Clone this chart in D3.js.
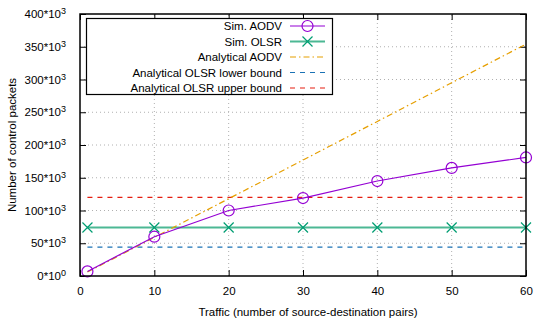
<!DOCTYPE html>
<html>
<head>
<meta charset="utf-8">
<script src="https://cdn.jsdelivr.net/npm/d3@7"></script>
<style>
  body { margin: 0; background: #fff; }
  svg { display: block; font-family: "Liberation Sans", Arial, sans-serif; }
</style>
</head>
<body>
<svg id="chart" width="536" height="320"></svg>
<script>
// Traffic levels (source-destination pairs)
const pairs = [1, 10, 20, 30, 40, 50, 60];
// Control packet counts, in thousands
const simAODV = [7, 60, 100, 119, 145, 165, 181];
const simOLSR = [74, 74, 74, 74, 74, 74, 74];
const anaAODV = [6, 59, 118, 177, 236, 295, 354];
const olsrLower = [44, 44];
const olsrUpper = [120, 120];
const boundX = [1, 60];

const xTicks = [0, 10, 20, 30, 40, 50, 60];
const yTicks = [0, 50, 100, 150, 200, 250, 300, 350, 400];

const svg = d3.select("#chart");
const L = 80, R = 526, T = 14, B = 276;
const FS = "11.5px";
const x = d3.scaleLinear().domain([0, 60]).range([L, R]);
const y = d3.scaleLinear().domain([0, 400]).range([B, T]);

// grid
const grid = svg.append("g").attr("stroke", "#b0b0b0").attr("stroke-width", 1)
  .attr("stroke-dasharray", "1,3");
xTicks.slice(1, -1).forEach(t => grid.append("line")
  .attr("x1", x(t)).attr("x2", x(t)).attr("y1", B).attr("y2", T));
yTicks.slice(1, -1).forEach(t => grid.append("line")
  .attr("x1", L).attr("x2", R).attr("y1", y(t)).attr("y2", y(t)));

// axes with inward ticks, mirrored on top/right
const fmtY = (g) => {
  g.selectAll("text").each(function(d) {
    const t = d3.select(this);
    t.text(null);
    t.append("tspan").text(d === 0 ? "0*10" : d + "*10");
    t.append("tspan").attr("dy", "-0.45em").attr("font-size", "9px").text(d === 0 ? "0" : "3");
  });
};
const styleAxis = g => {
  g.select(".domain").remove();
  g.selectAll("line").attr("stroke", "#000").attr("stroke-width", 1);
  g.selectAll("text").attr("fill", "#000").attr("font-size", FS)
    .attr("font-family", "Liberation Sans, Arial, sans-serif");
};
svg.append("g").attr("transform", `translate(0,${B})`)
  .call(d3.axisBottom(x).tickValues(xTicks).tickSizeInner(-6).tickSizeOuter(0).tickPadding(11))
  .call(styleAxis);
svg.append("g").attr("transform", `translate(0,${T})`)
  .call(d3.axisTop(x).tickValues(xTicks).tickSizeInner(-6).tickSizeOuter(0).tickFormat(""))
  .call(styleAxis);
svg.append("g").attr("transform", `translate(${L},0)`)
  .call(d3.axisLeft(y).tickValues(yTicks).tickSizeInner(-6).tickSizeOuter(0).tickPadding(14))
  .call(styleAxis).call(fmtY);
svg.append("g").attr("transform", `translate(${R},0)`)
  .call(d3.axisRight(y).tickValues(yTicks).tickSizeInner(-6).tickSizeOuter(0).tickFormat(""))
  .call(styleAxis);

// series lines
const line = d3.line().x(d => x(d[0])).y(d => y(d[1]));
const zip = (xs, ys) => xs.map((v, i) => [v, ys[i]]);
const plot = svg.append("g");

plot.append("path").datum(zip(boundX, olsrLower)).attr("d", line)
  .attr("fill", "none").attr("stroke", "#1a72b5").attr("stroke-width", 1.2).attr("stroke-dasharray", "5,5");
plot.append("path").datum(zip(boundX, olsrUpper)).attr("d", line)
  .attr("fill", "none").attr("stroke", "#e51e10").attr("stroke-width", 1.2).attr("stroke-dasharray", "5,5");
plot.append("path").datum(zip(pairs, simOLSR)).attr("d", line)
  .attr("fill", "none").attr("stroke", "#4cb894").attr("stroke-width", 2);
plot.append("path").datum(zip(pairs, anaAODV)).attr("d", line)
  .attr("fill", "none").attr("stroke", "#e69f00").attr("stroke-width", 1.2).attr("stroke-dasharray", "6,3,1.5,3");
plot.append("path").datum(zip(pairs, simAODV)).attr("d", line)
  .attr("fill", "none").attr("stroke", "#9400d3").attr("stroke-width", 1.2);

// markers
const cross = (g, cx, cy, s, col) => {
  g.append("path").attr("d", `M${cx-s},${cy-s}L${cx+s},${cy+s}M${cx-s},${cy+s}L${cx+s},${cy-s}`)
    .attr("stroke", col).attr("stroke-width", 1.2).attr("fill", "none");
};
zip(pairs, simOLSR).forEach(d => cross(plot, x(d[0]), y(d[1]), 5, "#009e73"));
plot.selectAll("circle.aodv").data(zip(pairs, simAODV)).join("circle")
  .attr("class", "aodv").attr("cx", d => x(d[0])).attr("cy", d => y(d[1])).attr("r", 5.5)
  .attr("fill", "none").attr("stroke", "#9400d3").attr("stroke-width", 1.2);

// border
svg.append("rect").attr("x", L).attr("y", T).attr("width", R - L).attr("height", B - T)
  .attr("fill", "none").attr("stroke", "#000").attr("stroke-width", 1.5);

// legend
const leg = svg.append("g");
leg.append("rect").attr("x", 86.5).attr("y", 18.5).attr("width", 246).attr("height", 76)
  .attr("fill", "#fff").attr("stroke", "#000").attr("stroke-width", 1.2);
const entries = [
  { label: "Sim. AODV", color: "#9400d3", dash: null, w: 1.2, mark: "circle" },
  { label: "Sim. OLSR", color: "#4cb894", dash: null, w: 2, mark: "cross" },
  { label: "Analytical AODV", color: "#e69f00", dash: "6,3,1.5,3", w: 1.2 },
  { label: "Analytical OLSR lower bound", color: "#1a72b5", dash: "5,5", w: 1.2 },
  { label: "Analytical OLSR upper bound", color: "#e51e10", dash: "5,5", w: 1.2 }
];
entries.forEach((e, i) => {
  const yy = 26 + i * 15.5;
  leg.append("text").attr("x", 282).attr("y", yy).attr("dy", "0.35em")
    .attr("text-anchor", "end").attr("font-size", FS).text(e.label);
  leg.append("line").attr("x1", 290).attr("x2", 325).attr("y1", yy).attr("y2", yy)
    .attr("stroke", e.color).attr("stroke-width", e.w).attr("stroke-dasharray", e.dash);
  if (e.mark === "circle") leg.append("circle").attr("cx", 307.5).attr("cy", yy).attr("r", 5.5)
    .attr("fill", "none").attr("stroke", e.color).attr("stroke-width", 1.2);
  if (e.mark === "cross") cross(leg, 307.5, yy, 5, "#009e73");
});

// axis titles
svg.append("text").attr("x", (L + R) / 2 + 5).attr("y", 316).attr("text-anchor", "middle")
  .attr("font-size", FS).text("Traffic (number of source-destination pairs)");
svg.append("text").attr("transform", `translate(16,${(T + B) / 2}) rotate(-90)`)
  .attr("text-anchor", "middle").attr("font-size", FS).text("Number of control packets");
</script>
</body>
</html>
